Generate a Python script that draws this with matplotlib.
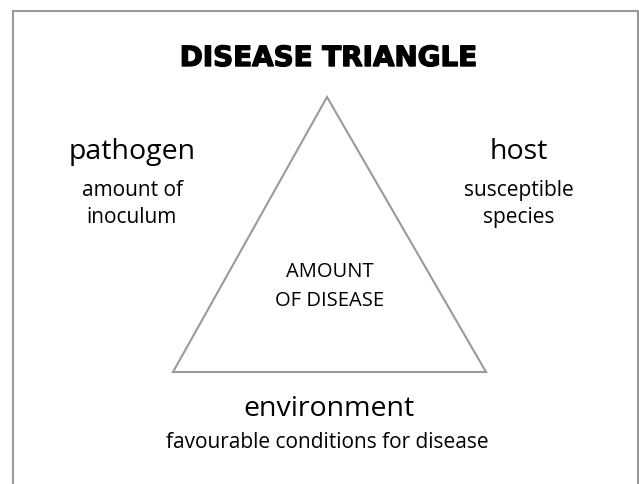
import matplotlib.pyplot as plt
from matplotlib.patches import Polygon
import matplotlib.patheffects as pe

# labels of the diagram
title = "DISEASE TRIANGLE"
corners = ["pathogen", "host", "environment"]
details = [["amount of", "inoculum"], ["susceptible", "species"], ["favourable conditions for disease"]]
centre = ["AMOUNT", "OF DISEASE"]

W, H = 639, 484
grey = "#9a9a9a"

fig = plt.figure(figsize=(W / 100, H / 100), dpi=100)
ax = fig.add_axes([0, 0, 1, 1])
ax.set_xlim(0, W)
ax.set_ylim(H, 0)
ax.axis("off")

# frame (open at the bottom)
ax.plot([12.5, 12.5, 637.5, 637.5], [H + 5, 10.5, 10.5, H + 5], color=grey, lw=1.5, solid_joinstyle="miter")

# triangle
tri = Polygon([[327, 97], [173, 372], [486, 372]], closed=True, fill=False,
              edgecolor=grey, lw=1.5, joinstyle="miter")
ax.add_patch(tri)

fam = ["Open Sans", "DejaVu Sans"]
t = ax.text(328, 66, title, ha="center", va="baseline", fontsize=20, fontweight="bold",
            family="DejaVu Sans", color="black")
t.set_path_effects([pe.withStroke(linewidth=1.0, foreground="black")])

big, small = 20.5, 15
ax.text(132, 159, corners[0], ha="center", va="baseline", fontsize=big, family=fam)
for txt, y in zip(details[0], [196, 223]):
    ax.text(132, y, txt, ha="center", va="baseline", fontsize=small, family=fam)

ax.text(519, 159, corners[1], ha="center", va="baseline", fontsize=big, family=fam)
for txt, y in zip(details[1], [196, 223]):
    ax.text(519, y, txt, ha="center", va="baseline", fontsize=small, family=fam)

ax.text(329, 416, corners[2], ha="center", va="baseline", fontsize=big, family=fam)
ax.text(327, 448, details[2][0], ha="center", va="baseline", fontsize=small, family=fam)

for txt, y in zip(centre, [277, 306]):
    ax.text(330, y, txt, ha="center", va="baseline", fontsize=14.5, family=fam)

fig.savefig("out.png", dpi=100, facecolor="white")
